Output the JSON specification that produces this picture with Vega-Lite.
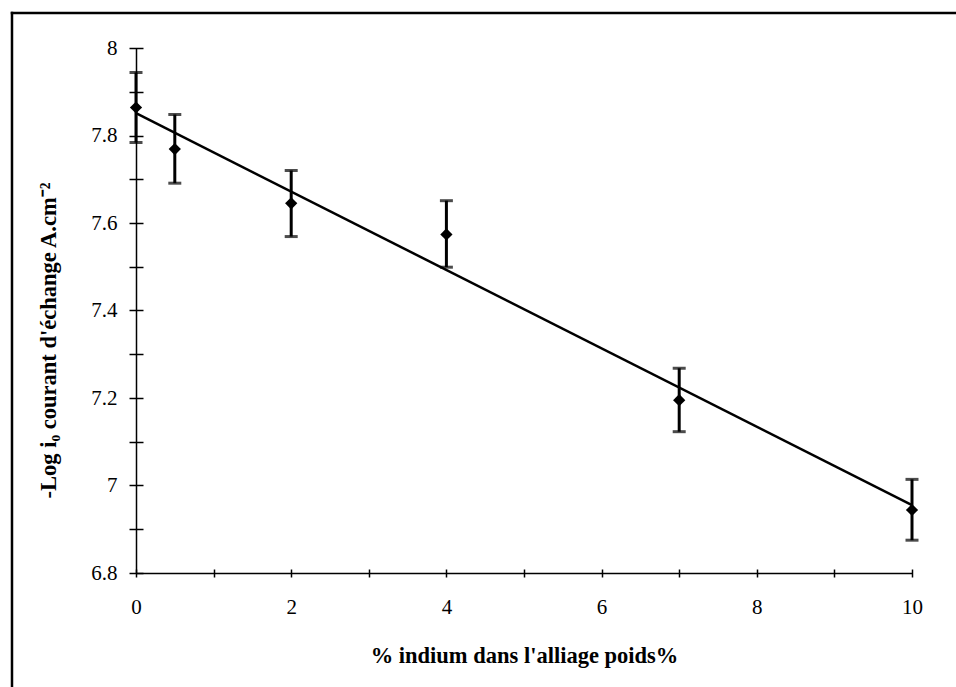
{
  "$schema": "https://vega.github.io/schema/vega-lite/v6.json",
  "width": 776,
  "height": 525,
  "autosize": {"type": "none"},
  "padding": {"left": 136, "top": 48, "right": 44, "bottom": 114},
  "background": "white",
  "config": {
    "view": {"stroke": null},
    "font": "Liberation Serif"
  },
  "datasets": {
    "pts": [
      {"x": 0, "y": 7.864, "lo": 7.784, "hi": 7.944},
      {"x": 0.5, "y": 7.769, "lo": 7.691, "hi": 7.848},
      {"x": 2, "y": 7.645, "lo": 7.569, "hi": 7.72},
      {"x": 4, "y": 7.574, "lo": 7.499, "hi": 7.651},
      {"x": 7, "y": 7.195, "lo": 7.123, "hi": 7.268},
      {"x": 10, "y": 6.944, "lo": 6.875, "hi": 7.014}
    ],
    "fit": [
      {"x": 0, "y": 7.851},
      {"x": 10, "y": 6.955}
    ]
  },
  "layer": [
    {
      "data": {"name": "fit"},
      "mark": {"type": "line", "color": "black", "strokeWidth": 2.5},
      "encoding": {
        "x": {
          "field": "x", "type": "quantitative",
          "title": "% indium dans l'alliage poids%",
          "scale": {"domain": [0, 10], "nice": false, "zero": false},
          "axis": {
            "title": "% indium dans l'alliage poids%",
            "values": [0, 1, 2, 3, 4, 5, 6, 7, 8, 9, 10],
            "labelExpr": "datum.value % 2 == 0 ? format(datum.value, '~g') : ''",
            "labelOverlap": false,
            "labelFlush": false,
            "domain": false,
            "offset": -4,
            "tickSize": 8,
            "tickWidth": 1.5,
            "tickColor": "black",
            "labelPadding": 19,
            "labelFont": "Liberation Serif",
            "labelFontSize": 21,
            "labelColor": "black",
            "grid": true,
            "gridColor": "black",
            "gridWidth": 1.5,
            "gridOpacity": {"condition": {"test": "datum.value == 0", "value": 1}, "value": 0},
            "titleFont": "Liberation Serif",
            "titleFontSize": 22.5,
            "titleFontWeight": "bold",
            "titleColor": "black",
            "titlePadding": 27
          }
        },
        "y": {
          "field": "y", "type": "quantitative",
          "title": "-Log i₀ courant d'échange A.cm⁻²",
          "scale": {"domain": [6.8, 8], "nice": false, "zero": false},
          "axis": {
            "title": "-Log i₀ courant d'échange A.cm⁻²",
            "values": [6.8, 6.9, 7.0, 7.1, 7.2, 7.3, 7.4, 7.5, 7.6, 7.7, 7.8, 7.9, 8.0],
            "labelExpr": "round(datum.value * 10) % 2 == 0 ? format(datum.value, '~g') : ''",
            "labelOverlap": false,
            "labelFlush": false,
            "domain": false,
            "offset": -7,
            "tickSize": 14,
            "tickWidth": 1.5,
            "tickColor": "black",
            "labelPadding": 12,
            "labelFont": "Liberation Serif",
            "labelFontSize": 21,
            "labelColor": "black",
            "grid": true,
            "gridColor": "black",
            "gridWidth": 1.5,
            "gridOpacity": {"condition": {"test": "abs(datum.value - 6.8) < 0.001", "value": 1}, "value": 0},
            "titleFont": "Liberation Serif",
            "titleFontSize": 22.5,
            "titleFontWeight": "bold",
            "titleColor": "black",
            "titlePadding": 30,
            "titleY": 292
          }
        }
      }
    },
    {
      "data": {"name": "pts"},
      "mark": {
        "type": "errorbar",
        "color": "black",
        "ticks": {"size": 13, "thickness": 3, "color": "black"},
        "rule": {"strokeWidth": 3, "color": "black"}
      },
      "encoding": {
        "x": {"field": "x", "type": "quantitative", "title": "% indium dans l'alliage poids%"},
        "y": {"field": "lo", "type": "quantitative", "title": "-Log i₀ courant d'échange A.cm⁻²"},
        "y2": {"field": "hi"}
      }
    },
    {
      "data": {"name": "pts"},
      "mark": {"type": "point", "shape": "diamond", "filled": true, "size": 150, "color": "black", "opacity": 1},
      "encoding": {
        "x": {"field": "x", "type": "quantitative", "title": "% indium dans l'alliage poids%"},
        "y": {"field": "y", "type": "quantitative", "title": "-Log i₀ courant d'échange A.cm⁻²"}
      }
    },
    {
      "data": {"values": [{}]},
      "mark": {"type": "rule", "color": "black", "strokeWidth": 2.5},
      "encoding": {
        "x": {"datum": -1.598, "type": "quantitative", "title": "% indium dans l'alliage poids%"},
        "y": {"datum": 6.3, "type": "quantitative", "title": "-Log i₀ courant d'échange A.cm⁻²"},
        "y2": {"datum": 8.083}
      }
    },
    {
      "data": {"values": [{}]},
      "mark": {"type": "rule", "color": "black", "strokeWidth": 2.5},
      "encoding": {
        "x": {"datum": -1.614, "type": "quantitative", "title": "% indium dans l'alliage poids%"},
        "x2": {"datum": 11.5},
        "y": {"datum": 8.08, "type": "quantitative", "title": "-Log i₀ courant d'échange A.cm⁻²"}
      }
    }
  ]
}
